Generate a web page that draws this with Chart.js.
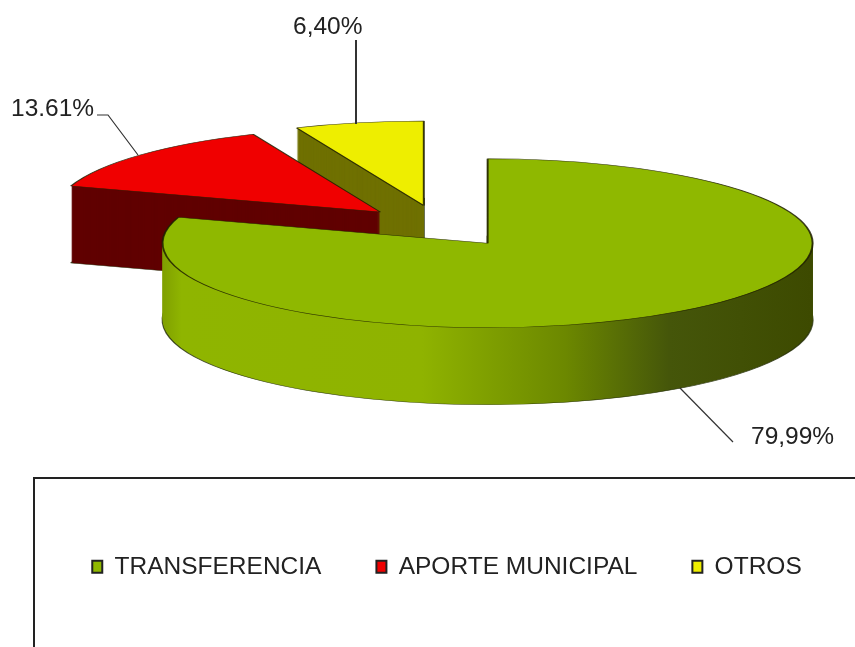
<!DOCTYPE html>
<html>
<head>
<meta charset="utf-8">
<style>html,body{margin:0;padding:0;background:#fff}canvas{display:block}</style>
<script src="https://cdn.jsdelivr.net/npm/chart.js@4"></script>
</head>
<body>
<canvas id="c" width="855" height="647"></canvas>
<script>
const categories = ['TRANSFERENCIA', 'APORTE MUNICIPAL', 'OTROS'];
const values = [79.99, 13.61, 6.40];
const valueLabels = ['79,99%', '13.61%', '6,40%'];
const topColors = ['#8fb800', '#f00000', '#eeee00'];
const sideColors = ['#8fb800', '#600000', '#6f7000'];

const CX = 440, CY = 226.2, SQUASH = 0.26, DEPTH = 77, EXPLODE = 81;

const pie3d = {
  id: 'pie3d',
  beforeDatasetDraw(chart) {
    const ctx = chart.ctx;
    const arcs = chart.getDatasetMeta(0).data;
    for (let i = arcs.length - 1; i >= 0; i--) {
      const arc = arcs[i];
      const mid = (arc.startAngle + arc.endAngle) / 2;
      const place = (dy) => {
        ctx.translate(CX, CY + dy);
        ctx.scale(1, SQUASH);
        ctx.translate(Math.cos(mid) * EXPLODE, Math.sin(mid) * EXPLODE);
        ctx.translate(-arc.x, -arc.y);
      };
      let fill = sideColors[i];
      if (i === 0) {
        const local = (px) => px - CX - Math.cos(mid) * EXPLODE + arc.x;
        const g = ctx.createLinearGradient(local(162), 0, local(812), 0);
        g.addColorStop(0, '#7f9f00');
        g.addColorStop(0.03, '#8fb500');
        g.addColorStop(0.40, '#8fb300');
        g.addColorStop(0.62, '#6c8800');
        g.addColorStop(0.78, '#45560a');
        g.addColorStop(1, '#3d4a00');
        fill = g;
      }
      for (let d = DEPTH; d >= 1; d--) {
        const ghost = Object.create(arc);
        ghost.options = Object.assign({}, arc.options, {
          backgroundColor: fill,
          borderWidth: d === DEPTH ? 2 : 0,
          borderColor: 'rgba(30,40,0,0.8)'
        });
        ctx.save();
        place(d);
        ghost.draw(ctx);
        ctx.restore();
      }
      ctx.save();
      place(0);
      arc.draw(ctx);
      ctx.restore();
    }
    return false;
  },
  afterDraw(chart) {
    const ctx = chart.ctx;
    ctx.save();
    ctx.strokeStyle = '#222';
    ctx.lineWidth = 2;
    ctx.strokeRect(34, 478, 900, 300);

    const leaders = [
      [[680, 388], [733, 442]],
      [[97, 115], [108, 115], [138, 155]],
      [[356, 40], [356, 124]]
    ];
    ctx.strokeStyle = '#333';
    leaders.forEach((pts, i) => {
      ctx.lineWidth = i === 2 ? 2 : 1.2;
      ctx.beginPath();
      pts.forEach((p, k) => k ? ctx.lineTo(p[0], p[1]) : ctx.moveTo(p[0], p[1]));
      ctx.stroke();
    });

    const labelAt = [[751, 437], [11, 109], [293, 27]];
    ctx.fillStyle = '#222';
    ctx.font = '24.5px "Liberation Sans", Arial, sans-serif';
    ctx.textAlign = 'left';
    ctx.textBaseline = 'middle';
    valueLabels.forEach((t, i) => ctx.fillText(t, labelAt[i][0], labelAt[i][1]));
    ctx.restore();
  }
};

new Chart(document.getElementById('c'), {
  type: 'pie',
  data: {
    labels: categories,
    datasets: [{
      data: values,
      backgroundColor: topColors,
      borderColor: 'rgba(30,30,0,0.85)',
      borderWidth: 2,
      radius: 325
    }]
  },
  plugins: [pie3d],
  options: {
    responsive: false,
    animation: false,
    layout: { padding: { left: 29, right: -10, top: 0, bottom: 58 } },
    plugins: {
      tooltip: { enabled: false },
      legend: {
        position: 'bottom',
        labels: {
          boxWidth: 10,
          boxHeight: 12,
          padding: 55,
          color: '#222',
          font: { family: '"Liberation Sans", Arial, sans-serif', size: 24.5 },
          generateLabels(chart) {
            const items = Chart.overrides.doughnut.plugins.legend.labels.generateLabels(chart);
            items.forEach(it => { it.strokeStyle = '#222'; it.lineWidth = 2; });
            return items;
          }
        }
      }
    }
  }
});
</script>
</body>
</html>
